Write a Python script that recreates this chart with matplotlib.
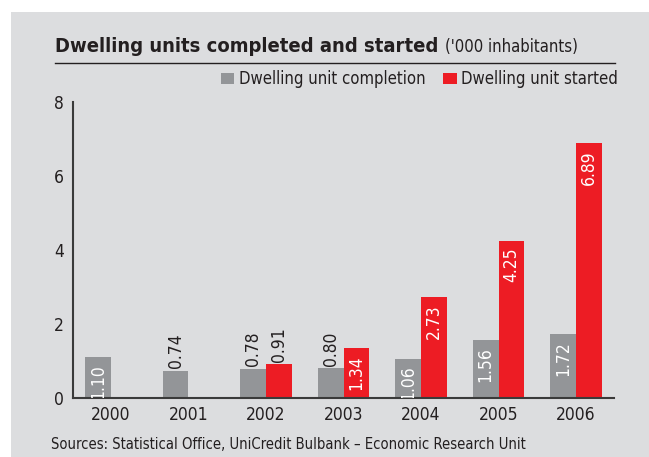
import matplotlib
matplotlib.use("Agg")
import matplotlib.pyplot as plt
from matplotlib.patches import Rectangle
from matplotlib.lines import Line2D

plt.rcParams["font.family"] = ["DejaVu Sans"]
plt.rcParams["font.stretch"] = "condensed"

YEARS = ["2000", "2001", "2002", "2003", "2004", "2005", "2006"]
COMPLETED = [1.10, 0.74, 0.78, 0.80, 1.06, 1.56, 1.72]
STARTED = [None, None, 0.91, 1.34, 2.73, 4.25, 6.89]
# label inside the bar (white) or above it (black)
COMPLETED_INSIDE = [True, False, False, False, True, True, True]
STARTED_INSIDE = [False, False, False, True, True, True, True]

GREY = "#939598"
RED = "#ED1C24"
PANEL = "#DCDDDF"
TEXT = "#231F20"
VAL_FS = 12.5

W, H = 649, 457
fig = plt.figure(figsize=(W / 100, H / 100), dpi=100)
fig.patch.set_facecolor("white")
fig.patches.append(Rectangle((11 / W, 0), 1 - 11 / W, (H - 12) / H,
                             transform=fig.transFigure, facecolor=PANEL,
                             edgecolor="none", zorder=-5))

ax = fig.add_axes([73 / W, (H - 398) / H, (614 - 73) / W, (398 - 102) / H])
ax.set_facecolor("none")
ax.set_zorder(2)


def label_bar(xpos, value, inside):
    if inside:
        t = ax.annotate(f"{value:.2f}", (xpos, value), xytext=(0, -5),
                        textcoords="offset points", rotation=90, ha="center",
                        va="top", color="white", fontsize=VAL_FS, zorder=3)
    else:
        t = ax.annotate(f"{value:.2f}", (xpos, value), xytext=(0, 2),
                        textcoords="offset points", rotation=90, ha="center",
                        va="bottom", color=TEXT, fontsize=VAL_FS, zorder=3)
    t.set_clip_path(ax.patch)


bar_w = 0.335
x = list(range(len(YEARS)))
for i in x:
    c = COMPLETED[i]
    ax.bar(i - bar_w / 2, c, width=bar_w, color=GREY, zorder=2)
    label_bar(i - bar_w / 2, c, COMPLETED_INSIDE[i])
    s = STARTED[i]
    if s is None:
        continue
    ax.bar(i + bar_w / 2, s, width=bar_w, color=RED, zorder=2)
    label_bar(i + bar_w / 2, s, STARTED_INSIDE[i])

ax.set_xlim(-0.49, 6.49)
ax.set_ylim(0, 8)
ax.set_yticks([0, 2, 4, 6, 8])
ax.set_xticks(x)
ax.set_xticklabels(YEARS)
ax.tick_params(length=0, labelsize=12.5, colors=TEXT, pad=5.5)
ax.tick_params(axis="y", pad=6.5)
for side in ("top", "right"):
    ax.spines[side].set_visible(False)
for side in ("left", "bottom"):
    ax.spines[side].set_color("#3a3a3a")
    ax.spines[side].set_linewidth(1.5)

fig.text(55 / W, 1 - 52 / H, "Dwelling units completed and started",
         fontsize=14.5, fontweight="bold", color=TEXT, va="baseline")
fig.text(445 / W, 1 - 52 / H, "('000 inhabitants)", fontsize=12,
         color=TEXT, va="baseline")
fig.lines.append(Line2D([55 / W, 615 / W], [1 - 63 / H, 1 - 63 / H],
                        transform=fig.transFigure, color=TEXT, linewidth=1.0))

fig.patches.append(Rectangle((221 / W, 1 - 84 / H), 13 / W, 11 / H,
                             transform=fig.transFigure, facecolor=GREY,
                             edgecolor="none"))
fig.text(239 / W, 1 - 84 / H, "Dwelling unit completion", fontsize=12,
         color=TEXT, va="baseline")
fig.patches.append(Rectangle((443 / W, 1 - 84 / H), 14 / W, 11 / H,
                             transform=fig.transFigure, facecolor=RED,
                             edgecolor="none"))
fig.text(461 / W, 1 - 84 / H, "Dwelling unit started", fontsize=12,
         color=TEXT, va="baseline")

fig.text(51 / W, 1 - 449 / H,
         "Sources: Statistical Office, UniCredit Bulbank \u2013 Economic Research Unit",
         fontsize=10.6, color=TEXT, va="baseline")

fig.savefig("out.png", dpi=100)
